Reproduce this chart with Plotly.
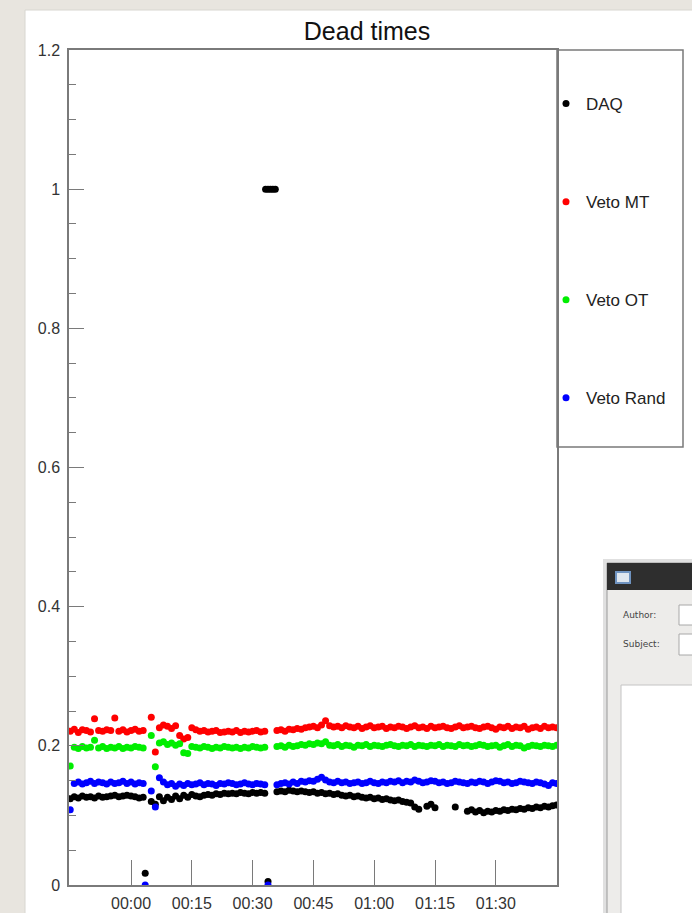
import pandas as pd
import plotly.graph_objects as go

W, H = 692, 913

# minutes after 00:00, one sample per minute
minutes = list(range(-15, 106))

daq = [
    0.124, 0.127, 0.125, 0.128, 0.126, 0.127, 0.125, 0.128, 0.126, 0.127,
    0.128, 0.129, 0.127, 0.128, 0.129, 0.128, 0.127, 0.125, 0.126, None,
    0.120, 0.116, 0.127, 0.121, 0.126, 0.123, 0.128, 0.124, 0.129, 0.126,
    0.130, 0.128, 0.127, 0.129, 0.130, 0.129, 0.131, 0.130, 0.132, 0.131,
    0.132, 0.131, 0.133, 0.132, 0.131, 0.133, 0.132, 0.133, 0.132, None,
    None, 0.134, 0.135, 0.134, 0.136, 0.135, 0.134, 0.135, 0.134, 0.133,
    0.134, 0.132, 0.133, 0.131, 0.132, 0.130, 0.131, 0.129, 0.128, 0.129,
    0.127, 0.128, 0.126, 0.125, 0.126, 0.124, 0.125, 0.123, 0.124, 0.122,
    0.121, 0.122, 0.120, 0.119, 0.118, 0.112, 0.109, None, 0.113, 0.116,
    0.111, None, None, None, None, 0.112, None, None, 0.106, 0.108,
    0.105, 0.107, 0.104, 0.106, 0.105, 0.107, 0.106, 0.108, 0.107, 0.109,
    0.108, 0.110, 0.109, 0.111, 0.110, 0.112, 0.111, 0.113, 0.112, 0.114,
    0.115,
]
veto_mt = [
    0.221, 0.224, 0.219, 0.223, 0.222, 0.220, 0.239, 0.222, 0.221, 0.223,
    0.222, 0.240, 0.221, 0.223, 0.220, 0.222, 0.224, 0.221, 0.222, None,
    0.241, 0.191, 0.226, 0.230, 0.228, 0.225, 0.229, 0.215, 0.210, 0.212,
    0.226, 0.223, 0.221, 0.222, 0.220, 0.221, 0.222, 0.219, 0.220, 0.221,
    0.220, 0.222, 0.219, 0.221, 0.220, 0.221, 0.222, 0.220, 0.221, None,
    None, 0.222, 0.223, 0.221, 0.224, 0.223, 0.225, 0.224, 0.226, 0.227,
    0.228, 0.226, 0.230, 0.236, 0.229, 0.227, 0.228, 0.226, 0.229, 0.227,
    0.226, 0.228, 0.225, 0.227, 0.229, 0.226, 0.227, 0.228, 0.225, 0.227,
    0.226, 0.228, 0.227, 0.225, 0.227, 0.229, 0.226, 0.227, 0.225, 0.228,
    0.226, 0.227, 0.228, 0.226, 0.225, 0.227, 0.229, 0.226, 0.227, 0.228,
    0.226, 0.225, 0.227, 0.228, 0.226, 0.224, 0.227, 0.226, 0.228, 0.225,
    0.227, 0.226, 0.228, 0.224, 0.226, 0.227, 0.225, 0.228, 0.226, 0.227,
    0.226,
]
veto_ot = [
    0.171, 0.198, 0.196, 0.199, 0.197, 0.198, 0.208, 0.197, 0.199, 0.196,
    0.198, 0.197, 0.199, 0.196, 0.198, 0.197, 0.199, 0.198, 0.197, None,
    0.215, 0.170, 0.204, 0.206, 0.202, 0.204, 0.201, 0.203, 0.190, 0.189,
    0.199, 0.198, 0.197, 0.199, 0.198, 0.196, 0.198, 0.197, 0.199, 0.198,
    0.197, 0.198, 0.196, 0.198, 0.197, 0.199, 0.198, 0.197, 0.198, None,
    None, 0.199, 0.200, 0.198, 0.201, 0.199, 0.200, 0.202, 0.201, 0.203,
    0.202, 0.204, 0.203, 0.206, 0.201, 0.200, 0.202, 0.199, 0.201, 0.200,
    0.198, 0.201, 0.200, 0.202, 0.199, 0.201, 0.200, 0.199, 0.201, 0.202,
    0.200, 0.199, 0.201, 0.200, 0.202, 0.199, 0.201, 0.200, 0.199, 0.201,
    0.200, 0.202, 0.199, 0.201, 0.200, 0.199, 0.202, 0.200, 0.201, 0.199,
    0.200, 0.202, 0.201, 0.199, 0.200, 0.201, 0.198, 0.200, 0.202, 0.199,
    0.201, 0.200, 0.197, 0.199, 0.201, 0.200, 0.199, 0.201, 0.200, 0.199,
    0.201,
]
veto_rand = [
    0.108, 0.146, 0.148, 0.145, 0.147, 0.149, 0.146, 0.148, 0.147, 0.145,
    0.148, 0.146, 0.147, 0.149, 0.146, 0.148, 0.145, 0.147, 0.146, None,
    0.135, 0.112, 0.154, 0.148, 0.144, 0.146, 0.142, 0.145, 0.143, 0.146,
    0.144, 0.145, 0.147, 0.144, 0.146, 0.145, 0.143, 0.146, 0.145, 0.147,
    0.146, 0.144, 0.145, 0.147, 0.145, 0.144, 0.146, 0.145, 0.144, None,
    None, 0.144, 0.146, 0.147, 0.145, 0.148, 0.146, 0.149, 0.148, 0.150,
    0.149, 0.152, 0.155, 0.151, 0.148, 0.147, 0.149, 0.147, 0.148, 0.146,
    0.147, 0.148, 0.146, 0.147, 0.149, 0.147, 0.146, 0.148, 0.147, 0.149,
    0.148, 0.150, 0.147, 0.149, 0.148, 0.151, 0.149, 0.147, 0.148, 0.150,
    0.149, 0.147, 0.148, 0.146, 0.147, 0.149, 0.148, 0.147, 0.146, 0.148,
    0.147, 0.149, 0.148, 0.146, 0.148, 0.150, 0.149, 0.147, 0.148, 0.146,
    0.147, 0.149, 0.148, 0.147, 0.146, 0.148, 0.147, 0.145, 0.143, 0.147,
    0.146,
]

# isolated readings between the regular samples
daq_extra_t = [3.5, 33.8, 33.2, 33.8, 34.4, 35.0, 35.6]
daq_extra_v = [0.017, 0.005, 1.0, 1.0, 1.0, 1.0, 1.0]
rand_extra_t = [3.5, 33.8]
rand_extra_v = [0.0, 0.0]

# labelled ticks on the time axis (minutes after 00:00)
tick_minutes = [0, 15, 30, 45, 60, 75, 90]

series = [
    ("DAQ", daq, daq_extra_t, daq_extra_v, "black"),
    ("Veto MT", veto_mt, [], [], "#ff0000"),
    ("Veto OT", veto_ot, [], [], "#00ee00"),
    ("Veto Rand", veto_rand, rand_extra_t, rand_extra_v, "#0000ff"),
]

start = pd.Timestamp("2012-05-20 00:00:00")


def to_time(mins):
    return [start + pd.Timedelta(minutes=m) for m in mins]


def px(x):
    return x / W


def py(y):
    return 1 - y / H


fig = go.Figure()
for i, (name, vals, ext_t, ext_v, col) in enumerate(series):
    fig.add_trace(go.Scatter(
        x=to_time(minutes + ext_t), y=vals + ext_v,
        mode="markers", name=name, legendgroup=str(i),
        marker=dict(color=col, size=7, symbol="circle", line=dict(width=0))))

axis_font = dict(family="Liberation Sans, Arial", size=16, color="#333333")
frame = "#7a7a7a"

fig.update_xaxes(
    type="date", domain=[px(69), px(557)], automargin=False,
    range=to_time([-15.3, 105.1]),
    tickmode="array", tickvals=to_time(tick_minutes), tickformat="%H:%M",
    ticks="inside", ticklen=25, tickcolor=frame, tickwidth=1.3,
    showgrid=False, zeroline=False, showline=True, mirror=True,
    linecolor=frame, linewidth=1.5, tickfont=axis_font, ticklabelstandoff=3)
fig.update_yaxes(
    domain=[py(885), py(50)], range=[0, 1.2], dtick=0.2, automargin=False,
    ticks="inside", ticklen=15, tickcolor=frame, tickwidth=1.3,
    minor=dict(dtick=0.05, ticks="inside", ticklen=7, tickcolor=frame),
    showgrid=False, zeroline=False, showline=True, mirror=True,
    linecolor=frame, linewidth=1.5, tickfont=axis_font, ticklabelstandoff=4)

shapes = [
    # white canvas of the screenshot
    dict(type="rect", xref="paper", yref="paper", layer="below",
         x0=px(25), x1=px(700), y0=py(10), y1=py(930),
         fillcolor="white", line=dict(color="#d8d6d0", width=1)),
    # legend box
    dict(type="rect", xref="paper", yref="paper",
         x0=px(557), x1=px(683), y0=py(50), y1=py(447),
         fillcolor="rgba(0,0,0,0)", line=dict(color=frame, width=1.5)),
    # dialog window in the corner
    dict(type="rect", xref="paper", yref="paper",
         x0=px(603), x1=px(700), y0=py(559), y1=py(930),
         fillcolor="rgba(0,0,0,0.12)", line=dict(width=0)),
    dict(type="rect", xref="paper", yref="paper",
         x0=px(607), x1=px(700), y0=py(563), y1=py(930),
         fillcolor="#edecea", line=dict(color="#9a9a9a", width=1)),
    dict(type="rect", xref="paper", yref="paper",
         x0=px(607), x1=px(700), y0=py(563), y1=py(590),
         fillcolor="#2e2e2e", line=dict(width=0)),
    dict(type="rect", xref="paper", yref="paper",
         x0=px(616), x1=px(630), y0=py(572), y1=py(583),
         fillcolor="#dfe6ee", line=dict(color="#6f93c0", width=2)),
    dict(type="rect", xref="paper", yref="paper",
         x0=px(679), x1=px(700), y0=py(605), y1=py(625),
         fillcolor="white", line=dict(color="#a8a8a8", width=1)),
    dict(type="rect", xref="paper", yref="paper",
         x0=px(679), x1=px(700), y0=py(634), y1=py(655),
         fillcolor="white", line=dict(color="#a8a8a8", width=1)),
    dict(type="rect", xref="paper", yref="paper",
         x0=px(621), x1=px(700), y0=py(685), y1=py(930),
         fillcolor="white", line=dict(color="#c4c4c4", width=1)),
]

small = dict(family="DejaVu Sans", size=9, color="#444444")
annotations = [
    dict(text="Author:", x=px(621), y=py(615), xref="paper", yref="paper",
         xanchor="left", yanchor="middle", showarrow=False, font=small),
    dict(text="Subject:", x=px(621), y=py(644), xref="paper", yref="paper",
         xanchor="left", yanchor="middle", showarrow=False, font=small),
]

fig.update_layout(
    width=W, height=H,
    margin=dict(l=0, r=0, t=0, b=0),
    paper_bgcolor="#e8e5df", plot_bgcolor="white",
    title=dict(text="Dead times", x=px(367), y=py(31), xanchor="center",
               yanchor="middle", automargin=False,
               font=dict(family="Liberation Sans, Arial", size=25, color="#111111")),
    showlegend=True,
    legend=dict(x=px(546), y=py(86), xanchor="left", yanchor="top",
                bgcolor="rgba(0,0,0,0)", tracegroupgap=73, itemsizing="trace",
                font=dict(family="Liberation Sans, Arial", size=17, color="#222222")),
    shapes=shapes, annotations=annotations,
)

# the page body has a default 8px margin; drop it so the figure sits at 0,0
fig.write_html("out.html",
               config={"displayModeBar": False},
               post_script="document.body.style.margin='0';"
                           "document.body.style.overflow='hidden';")
